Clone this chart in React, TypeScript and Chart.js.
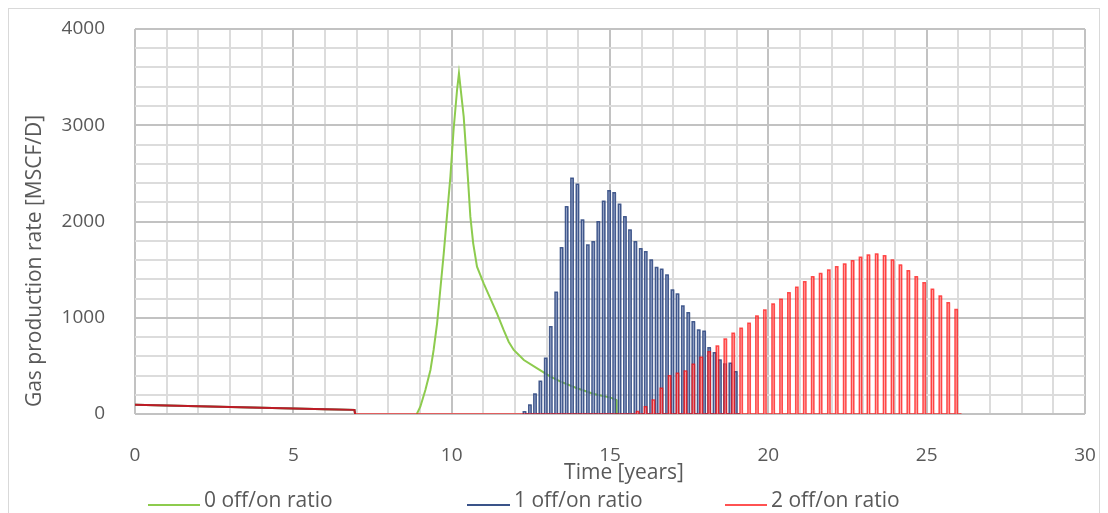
import React, { useEffect, useRef } from "react";
import { Chart, registerables } from "chart.js";

Chart.register(...registerables);

// ---- Labels ----
const xTickLabels = ["0", "5", "10", "15", "20", "25", "30"];
const yTickLabels = ["0", "1000", "2000", "3000", "4000"];
const seriesNames = ["0 off/on ratio", "1 off/on ratio", "2 off/on ratio"];
const xTitle = "Time [years]";
const yTitle = "Gas production rate [MSCF/D]";

// ---- Shared early production (all three cases) ----
const earlyTimes = [0, 1, 2, 3, 4, 5, 6, 6.93, 6.95];
const earlyRates = [95, 88, 80, 73, 66, 58, 50, 43, 0];

// ---- 0 off/on ratio (continuous) ----
const greenTimes = [8.9, 9.01, 9.17, 9.33, 9.43, 9.54, 9.64, 9.75, 9.85, 9.96, 10.06, 10.17, 10.23, 10.38, 10.51, 10.59, 10.68, 10.8, 11.01, 11.22, 11.43, 11.64, 11.8, 11.96, 12.28, 12.7, 13.12, 13.44, 13.96, 14.49, 15.02, 15.2, 15.21];
const greenRates = [0, 76, 249, 457, 665, 942, 1288, 1669, 2050, 2466, 2951, 3366, 3540, 3089, 2466, 2050, 1773, 1530, 1358, 1202, 1046, 873, 751, 665, 561, 475, 388, 336, 267, 208, 170, 145, 0];

// ---- 1 off/on ratio (pulse start times and on-period rates) ----
const bluePulseTimes = [12.26, 12.43, 12.59, 12.76, 12.93, 13.09, 13.26, 13.43, 13.59, 13.76, 13.93, 14.09, 14.26, 14.43, 14.59, 14.76, 14.93, 15.09, 15.26, 15.43, 15.59, 15.76, 15.93, 16.09, 16.26, 16.43, 16.59, 16.76, 16.93, 17.09, 17.26, 17.43, 17.59, 17.76, 17.93, 18.09, 18.26, 18.43, 18.59, 18.76, 18.93];
const bluePulseRates = [24, 94, 208, 340, 578, 907, 1264, 1728, 2154, 2449, 2386, 2016, 1756, 1790, 1998, 2210, 2320, 2300, 2180, 2050, 1912, 1790, 1718, 1687, 1600, 1522, 1503, 1444, 1288, 1247, 1122, 1053, 959, 873, 860, 689, 636, 561, 519, 526, 440];
const blueEndTime = 19.1;

// ---- 2 off/on ratio ----
const redPulseTimes = [15.83, 16.08, 16.33, 16.58, 16.84, 17.09, 17.34, 17.59, 17.84, 18.09, 18.35, 18.6, 18.85, 19.1, 19.35, 19.6, 19.85, 20.11, 20.36, 20.61, 20.86, 21.11, 21.36, 21.61, 21.87, 22.12, 22.37, 22.62, 22.87, 23.12, 23.38, 23.63, 23.88, 24.13, 24.38, 24.63, 24.88, 25.14, 25.39, 25.64, 25.89];
const redPulseRates = [25, 76, 145, 267, 398, 423, 447, 516, 589, 647, 706, 779, 838, 890, 942, 1018, 1081, 1143, 1191, 1260, 1316, 1375, 1427, 1461, 1496, 1531, 1558, 1593, 1628, 1652, 1662, 1645, 1600, 1548, 1489, 1427, 1364, 1295, 1226, 1157, 1087];
const redEndTime = 26.1;

const onDuration = 0.08; // one month of production per cycle

const COLORS = {
  green: "#8DCB4E",
  blue: "rgba(40,66,124,0.85)",
  blueFill: "rgba(150,166,204,0.75)",
  red: "rgba(255,0,0,0.68)",
  redFill: "rgba(255,140,140,0.6)",
  legendBlue: "#3A5389",
  legendRed: "#FF5252",
  text: "#595959",
  gridMinor: "#DCDCDC",
  gridMajor: "#C2C2C2",
};
const FONT = "'Open Sans', 'Noto Sans', sans-serif";

type Pt = { x: number; y: number | null };

function earlyPoints(): Pt[] {
  return earlyTimes.map((t, i) => ({ x: t, y: earlyRates[i] }));
}

function pulsePoints(times: number[], rates: number[], endTime: number, startTime: number): Pt[] {
  const pts: Pt[] = [{ x: startTime, y: 0 }];
  times.forEach((t, i) => {
    const r = rates[i];
    pts.push({ x: t, y: 0 });
    pts.push({ x: t + 0.004, y: r });
    pts.push({ x: t + onDuration - 0.004, y: r });
    pts.push({ x: t + onDuration, y: 0 });
  });
  pts.push({ x: endTime, y: 0 });
  return pts;
}

function greenPoints(): Pt[] {
  const pts = earlyPoints();
  pts.push({ x: earlyTimes[earlyTimes.length - 1] + 0.01, y: null });
  greenTimes.forEach((t, i) => pts.push({ x: t, y: greenRates[i] }));
  return pts;
}

const customText = {
  id: "customText",
  afterDraw(chart: any) {
    const { ctx, chartArea } = chart;
    ctx.save();
    ctx.fillStyle = COLORS.text;
    ctx.textBaseline = "middle";
    ctx.font = `21px ${FONT}`;
    ctx.textAlign = "center";
    ctx.fillText(xTitle, chartArea.left + 489, chartArea.bottom + 59);
    ctx.save();
    ctx.translate(26, chartArea.top + 232);
    ctx.rotate(-Math.PI / 2);
    ctx.fillText(yTitle, 0, 0);
    ctx.restore();
    const legendColors = [COLORS.green, COLORS.legendBlue, COLORS.legendRed];
    const starts = [139, 458, 716];
    const lineLens = [52, 43, 42];
    const ly = chartArea.bottom + 91;
    ctx.textAlign = "left";
    seriesNames.forEach((name, i) => {
      ctx.strokeStyle = legendColors[i];
      ctx.lineWidth = 2;
      ctx.beginPath();
      ctx.moveTo(starts[i], ly);
      ctx.lineTo(starts[i] + lineLens[i], ly);
      ctx.stroke();
      ctx.fillStyle = COLORS.text;
      ctx.fillText(name, starts[i] + lineLens[i] + 4, ly - 4);
    });
    ctx.restore();
  },
};

const lineBase = { pointRadius: 0, tension: 0, spanGaps: false };

export default function App() {
  const canvasRef = useRef<HTMLCanvasElement | null>(null);

  useEffect(() => {
    document.documentElement.style.overflow = "hidden";
    document.body.style.overflow = "hidden";
    const canvas = canvasRef.current;
    if (!canvas) return;
    const earlyEnd = earlyTimes[earlyTimes.length - 1];
    const chart = new Chart(canvas, {
      type: "line",
      data: {
        datasets: [
          { ...lineBase, label: seriesNames[0], data: greenPoints(), borderColor: COLORS.green, borderWidth: 2, order: 5 },
          { ...lineBase, label: seriesNames[1] + " early", data: earlyPoints(), borderColor: COLORS.blue, borderWidth: 2, order: 4 },
          {
            ...lineBase,
            label: seriesNames[1],
            data: pulsePoints(bluePulseTimes, bluePulseRates, blueEndTime, bluePulseTimes[0]),
            borderColor: COLORS.blue,
            backgroundColor: COLORS.blueFill,
            fill: "origin",
            borderWidth: 1.5,
            order: 3,
          },
          { ...lineBase, label: seriesNames[2] + " early", data: earlyPoints(), borderColor: COLORS.red, borderWidth: 2, order: 2 },
          {
            ...lineBase,
            label: seriesNames[2],
            data: pulsePoints(redPulseTimes, redPulseRates, redEndTime, earlyEnd),
            borderColor: COLORS.red,
            backgroundColor: COLORS.redFill,
            fill: "origin",
            borderWidth: 1.5,
            order: 1,
          },
        ],
      },
      options: {
        animation: false,
        responsive: false,
        maintainAspectRatio: false,
        parsing: false,
        normalized: true,
        layout: { padding: { top: 20, right: 14, left: 0, bottom: 0 } },
        plugins: {
          legend: { display: false },
          tooltip: { enabled: false },
          title: { display: false },
          filler: { propagate: false },
        },
        scales: {
          x: {
            type: "linear",
            min: 0,
            max: 30,
            afterFit: (s: any) => {
              s.height = 99;
            },
            border: { display: false },
            grid: {
              lineWidth: 2,
              drawTicks: true,
              tickLength: 30,
              tickColor: "rgba(0,0,0,0)",
              color: (c: any) => (c.tick && c.tick.value % 5 === 0 ? COLORS.gridMajor : COLORS.gridMinor),
            },
            ticks: {
              stepSize: 1,
              autoSkip: false,
              maxRotation: 0,
              padding: 0,
              color: COLORS.text,
              font: { family: FONT, size: 19 },
              callback: (v: any) => {
                const s = String(v);
                return xTickLabels.includes(s) ? s : "";
              },
            },
          },
          y: {
            type: "linear",
            min: 0,
            max: 4000,
            afterFit: (s: any) => {
              s.width = 126;
            },
            border: { display: false },
            grid: {
              lineWidth: 2,
              drawTicks: true,
              tickLength: 30,
              tickColor: "rgba(0,0,0,0)",
              color: (c: any) => (c.tick && c.tick.value % 1000 === 0 ? COLORS.gridMajor : COLORS.gridMinor),
            },
            ticks: {
              stepSize: 200,
              autoSkip: false,
              padding: 0,
              color: COLORS.text,
              font: { family: FONT, size: 19 },
              callback: (v: any) => {
                const s = String(v);
                return yTickLabels.includes(s) ? s : "";
              },
            },
          },
        },
      },
      plugins: [customText],
    });
    return () => chart.destroy();
  }, []);

  return (
    <div
      style={{
        width: 1092,
        height: 505,
        borderTop: "1px solid #D9D9D9",
        borderLeft: "1px solid #D9D9D9",
        borderRight: "1px solid #D9D9D9",
        boxSizing: "border-box",
        background: "#FFFFFF",
        overflow: "hidden",
      }}
    >
      <canvas ref={canvasRef} width={1090} height={504} style={{ display: "block" }} />
    </div>
  );
}
